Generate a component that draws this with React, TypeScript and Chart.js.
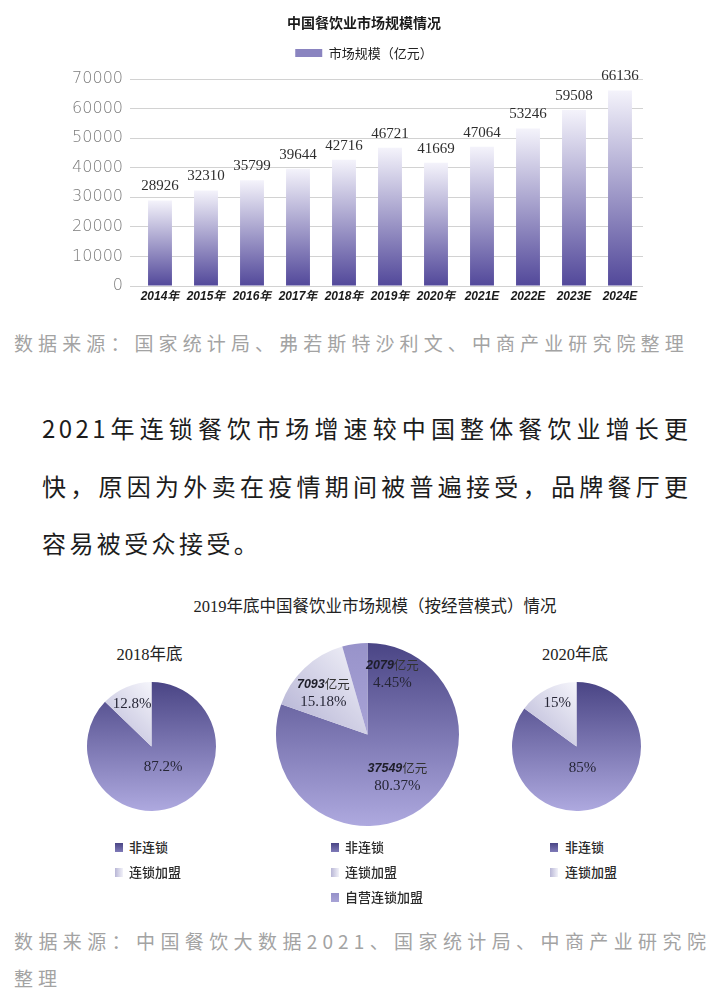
import React, { useEffect, useRef } from 'react';
import { Chart, registerables } from 'chart.js';

Chart.register(...registerables);

// ---------- data ----------
const YEARS = ['2014年', '2015年', '2016年', '2017年', '2018年', '2019年', '2020年', '2021E', '2022E', '2023E', '2024E'];
const MARKET_SIZE = [28926, 32310, 35799, 39644, 42716, 46721, 41669, 47064, 53246, 59508, 66136];
const Y_MAX = 70000;
const Y_STEP = 10000;

const MODES_2018 = ['非连锁', '连锁加盟'];
const SHARE_2018 = [87.2, 12.8];

const MODES_2019 = ['非连锁', '连锁加盟', '自营连锁加盟'];
const SHARE_2019 = [80.37, 15.18, 4.45];
const AMOUNT_2019 = [37549, 7093, 2079];

const MODES_2020 = ['非连锁', '连锁加盟'];
const SHARE_2020 = [85, 15];

// ---------- text ----------
const BAR_TITLE = '中国餐饮业市场规模情况';
const BAR_SERIES = '市场规模（亿元）';
const SOURCE_1 = '数据来源：国家统计局、弗若斯特沙利文、中商产业研究院整理';
const PARA_LINES = [
  '2021年连锁餐饮市场增速较中国整体餐饮业增长更',
  '快，原因为外卖在疫情期间被普遍接受，品牌餐厅更',
  '容易被受众接受。',
];
const PIE_TITLE = '2019年底中国餐饮业市场规模（按经营模式）情况';
const SOURCE_2_LINES = ['数据来源：中国餐饮大数据2021、国家统计局、中商产业研究院', '整理'];

// ---------- styles ----------
const SERIF = "'Liberation Serif', 'Noto Sans CJK SC', serif";
const CJK = "'Noto Sans CJK SC', sans-serif";

function sliceFill(ctx: CanvasRenderingContext2D, name: string, cx: number, cy: number, r: number) {
  if (name === '非连锁') {
    const g = ctx.createLinearGradient(0, cy - r, 0, cy + r);
    g.addColorStop(0, '#4a4585');
    g.addColorStop(1, '#aea9df');
    return g;
  }
  if (name === '连锁加盟') {
    const g = ctx.createLinearGradient(cx - r, cy, cx, cy - r);
    g.addColorStop(0, '#aeacd0');
    g.addColorStop(1, '#f5f5fb');
    return g;
  }
  const g = ctx.createLinearGradient(0, cy - r, 0, cy);
  g.addColorStop(0, '#9893ca');
  g.addColorStop(1, '#a8a3d6');
  return g;
}

const LEGEND_SWATCH: Record<string, string> = {
  '非连锁': 'linear-gradient(180deg,#4a4585,#7f7ab8)',
  '连锁加盟': 'linear-gradient(90deg,#b8b6d6,#f2f2f9)',
  '自营连锁加盟': 'linear-gradient(180deg,#9591c9,#a8a3d6)',
};

function BarChart() {
  const ref = useRef<HTMLCanvasElement>(null);
  useEffect(() => {
    const canvas = ref.current!;
    const valueLabels = {
      id: 'valueLabels',
      afterDatasetsDraw(chart: any) {
        const { ctx } = chart;
        const meta = chart.getDatasetMeta(0);
        ctx.save();
        ctx.font = `15px ${SERIF}`;
        ctx.fillStyle = '#2e2e2e';
        ctx.textAlign = 'center';
        ctx.textBaseline = 'middle';
        meta.data.forEach((bar: any, i: number) => {
          ctx.fillText(String(MARKET_SIZE[i]), bar.x, bar.y - 14);
        });
        ctx.restore();
      },
    };
    const defaultLabels = (Chart.defaults.plugins.legend.labels as any).generateLabels;
    const chart = new Chart(canvas, {
      type: 'bar',
      data: {
        labels: YEARS,
        datasets: [
          {
            label: BAR_SERIES,
            data: MARKET_SIZE,
            barPercentage: 0.52,
            categoryPercentage: 1,
            borderWidth: 0,
            backgroundColor: (c: any) => {
              const chart = c.chart;
              if (!chart.chartArea || c.type !== 'data') return '#8f89c3';
              const ys = chart.scales.y;
              const top = ys.getPixelForValue(c.raw);
              const bottom = ys.getPixelForValue(0);
              const g = chart.ctx.createLinearGradient(0, top, 0, bottom);
              g.addColorStop(0, '#f4f3fb');
              g.addColorStop(1, '#52489a');
              return g;
            },
          } as any,
        ],
      },
      options: {
        responsive: false,
        animation: false,
        layout: { padding: { left: 10, right: 0, top: 0, bottom: 0 } },
        plugins: {
          title: {
            display: true,
            text: BAR_TITLE,
            color: '#1a1a1a',
            font: { family: CJK, size: 14, weight: 'bold', lineHeight: 1.2 },
            padding: { top: 14, bottom: 9 },
          },
          subtitle: {
            display: true,
            text: '',
            weight: 500,
            font: { size: 1, lineHeight: 1 },
            padding: { top: 0, bottom: 8.5 },
          } as any,
          legend: {
            display: true,
            position: 'top',
            labels: {
              boxWidth: 27,
              boxHeight: 8,
              padding: 6.7,
              color: '#222',
              font: { family: CJK, size: 13 },
              generateLabels: (ch: any) =>
                defaultLabels(ch).map((l: any) => ({ ...l, fillStyle: '#8a84c0', strokeStyle: '#8a84c0', lineWidth: 0 })),
            },
          },
          tooltip: { enabled: false },
        },
        scales: {
          x: {
            grid: { display: false, drawTicks: false },
            border: { display: false },
            ticks: {
              color: '#1a1a1a',
              font: { family: "'Liberation Sans', 'Noto Sans CJK SC', sans-serif", size: 12, weight: 'bold', style: 'italic' },
              padding: 3,
              maxRotation: 0,
              autoSkip: false,
            },
            afterFit: (s: any) => {
              s.height = 24;
            },
          },
          y: {
            min: 0,
            max: Y_MAX,
            ticks: {
              stepSize: Y_STEP,
              color: '#7c7c7c',
              font: { family: "'DejaVu Sans', sans-serif", size: 16, weight: '200' },
              padding: 7,
              callback: (v: any) => String(v),
            },
            grid: { color: '#d2d2d2', lineWidth: 1, tickLength: 7, drawTicks: true },
            border: { display: false },
            afterFit: (s: any) => {
              s.width = 127;
            },
          },
          yr: {
            position: 'right',
            display: true,
            grid: { display: false, drawTicks: false },
            border: { display: false },
            ticks: { display: false },
            afterFit: (s: any) => {
              s.width = 75;
            },
          },
        },
      } as any,
      plugins: [valueLabels],
    });
    return () => chart.destroy();
  }, []);
  return (
    <canvas
      ref={ref}
      width={718}
      height={310}
      style={{ position: 'absolute', left: 0, top: 0, width: 718, height: 310 }}
    />
  );
}

type Place = { a: number; f: number };

function PieChart(props: {
  modes: string[];
  shares: number[];
  amounts?: number[];
  cx: number;
  cy: number;
  r: number;
  place: Place[];
}) {
  const { modes, shares, amounts, cx, cy, r, place } = props;
  const ref = useRef<HTMLCanvasElement>(null);
  const size = Math.ceil(2 * r + 40);
  useEffect(() => {
    const canvas = ref.current!;
    const labelPlugin = {
      id: 'pieLabels',
      afterDatasetsDraw(chart: any) {
        const { ctx } = chart;
        const meta = chart.getDatasetMeta(0);
        ctx.save();
        ctx.textBaseline = 'middle';
        meta.data.forEach((arc: any, i: number) => {
          const p = place[i];
          const ang = (p.a * Math.PI) / 180;
          const px = arc.x + arc.outerRadius * p.f * Math.sin(ang);
          const py = arc.y - arc.outerRadius * p.f * Math.cos(ang);
          const pct = `${shares[i]}%`;
          ctx.fillStyle = '#262636';
          if (amounts) {
            const num = String(amounts[i]);
            const unit = '亿元';
            const numFont = `italic bold 12.5px 'Liberation Sans', sans-serif`;
            const unitFont = `12.5px ${CJK}`;
            ctx.font = numFont;
            const wn = ctx.measureText(num).width;
            ctx.font = unitFont;
            const wu = ctx.measureText(unit).width;
            const x0 = px - (wn + wu) / 2;
            ctx.textAlign = 'left';
            ctx.font = numFont;
            ctx.fillStyle = '#1e1e2a';
            ctx.fillText(num, x0, py - 9);
            ctx.font = unitFont;
            ctx.fillStyle = '#333';
            ctx.fillText(unit, x0 + wn, py - 9);
            ctx.textAlign = 'center';
            ctx.font = `15px ${SERIF}`;
            ctx.fillStyle = '#262636';
            ctx.fillText(pct, px, py + 9);
          } else {
            ctx.textAlign = 'center';
            ctx.font = `15px ${SERIF}`;
            ctx.fillText(pct, px, py);
          }
        });
        ctx.restore();
      },
    };
    const chart = new Chart(canvas, {
      type: 'pie',
      data: {
        labels: modes,
        datasets: [
          {
            data: shares,
            radius: r,
            borderWidth: 0,
            hoverOffset: 0,
            backgroundColor: (c: any) => {
              const ch = c.chart;
              const a = ch.chartArea;
              const name = modes[c.dataIndex] ?? modes[0];
              if (!a) return '#8a85c0';
              const x = (a.left + a.right) / 2;
              const y = (a.top + a.bottom) / 2;
              return sliceFill(ch.ctx, name, x, y, r);
            },
          } as any,
        ],
      },
      options: {
        responsive: false,
        animation: false,
        layout: { padding: 0 },
        plugins: { legend: { display: false }, title: { display: false }, tooltip: { enabled: false } },
      } as any,
      plugins: [labelPlugin],
    });
    return () => chart.destroy();
  }, []);
  return (
    <canvas
      ref={ref}
      width={size}
      height={size}
      style={{ position: 'absolute', left: cx - size / 2, top: cy - size / 2, width: size, height: size }}
    />
  );
}

function PieLegend(props: { modes: string[]; swatchLeft: number; textLeft: number; top: number }) {
  const { modes, swatchLeft, textLeft, top } = props;
  return (
    <>
      {modes.map((m, i) => (
        <div
          key={m}
          style={{
            position: 'absolute',
            left: swatchLeft,
            top: top + i * 25 - 10,
            height: 20,
            display: 'flex',
            alignItems: 'center',
            whiteSpace: 'nowrap',
          }}
        >
          <div style={{ width: 8, height: 9, background: LEGEND_SWATCH[m], marginRight: textLeft - swatchLeft - 8 }} />
          <span style={{ fontFamily: CJK, fontSize: 13, fontWeight: 500, color: '#2a2a2a', lineHeight: '20px' }}>{m}</span>
        </div>
      ))}
    </>
  );
}

export default function App() {
  const sourceStyle: React.CSSProperties = {
    position: 'absolute',
    fontFamily: CJK,
    fontSize: 19,
    letterSpacing: 5.1,
    color: '#a3a3a3',
    lineHeight: '37px',
    height: 37,
  };
  return (
    <div
      style={{
        position: 'absolute',
        left: 0,
        top: 0,
        width: 718,
        height: 1006,
        background: '#fff',
        overflow: 'hidden',
      }}
    >
      <BarChart />
      <div style={{ ...sourceStyle, left: 14, top: 323.5, whiteSpace: 'nowrap' }}>{SOURCE_1}</div>

      {PARA_LINES.map((line, i) => (
        <div
          key={i}
          style={{
            position: 'absolute',
            left: 42,
            top: 399 + i * 57.5,
            width: 649.4,
            height: 57.5,
            lineHeight: '57.5px',
            fontFamily: CJK,
            fontSize: 24,
            fontWeight: 400,
            letterSpacing: 3.4,
            color: '#1c1c1c',
            textAlign: 'justify',
            textAlignLast: i < PARA_LINES.length - 1 ? 'justify' : 'left',
          }}
        >
          {line}
        </div>
      ))}

      <div
        style={{
          position: 'absolute',
          left: 125,
          width: 500,
          top: 597,
          textAlign: 'center',
          fontFamily: SERIF,
          fontSize: 16.5,
          lineHeight: '20px',
          color: '#222',
        }}
      >
        {PIE_TITLE}
      </div>
      <div style={{ position: 'absolute', left: 99.5, width: 100, top: 645, textAlign: 'center', fontFamily: SERIF, fontSize: 16.5, lineHeight: '20px', color: '#222' }}>
        2018年底
      </div>
      <div style={{ position: 'absolute', left: 525, width: 100, top: 645, textAlign: 'center', fontFamily: SERIF, fontSize: 16.5, lineHeight: '20px', color: '#222' }}>
        2020年底
      </div>

      <PieChart modes={MODES_2018} shares={SHARE_2018} cx={151} cy={746} r={64.5} place={[{ a: 151, f: 0.37 }, { a: 335.6, f: 0.73 }]} />
      <PieChart
        modes={MODES_2019}
        shares={SHARE_2019}
        amounts={AMOUNT_2019}
        cx={367}
        cy={734}
        r={91.5}
        place={[{ a: 145, f: 0.57 }, { a: 313, f: 0.66 }, { a: 22.6, f: 0.71 }]}
      />
      <PieChart modes={MODES_2020} shares={SHARE_2020} cx={576} cy={746} r={64.5} place={[{ a: 164, f: 0.34 }, { a: 336, f: 0.73 }]} />

      <PieLegend modes={MODES_2018} swatchLeft={115} textLeft={129} top={847} />
      <PieLegend modes={MODES_2019} swatchLeft={331} textLeft={345} top={847} />
      <PieLegend modes={MODES_2020} swatchLeft={550} textLeft={565} top={847} />

      {SOURCE_2_LINES.map((line, i) => (
        <div
          key={i}
          style={{
            ...sourceStyle,
            left: 14,
            top: 921.5 + i * 37,
            width: 697,
            textAlign: 'justify',
            textAlignLast: i < SOURCE_2_LINES.length - 1 ? 'justify' : 'left',
          }}
        >
          {line}
        </div>
      ))}
    </div>
  );
}
